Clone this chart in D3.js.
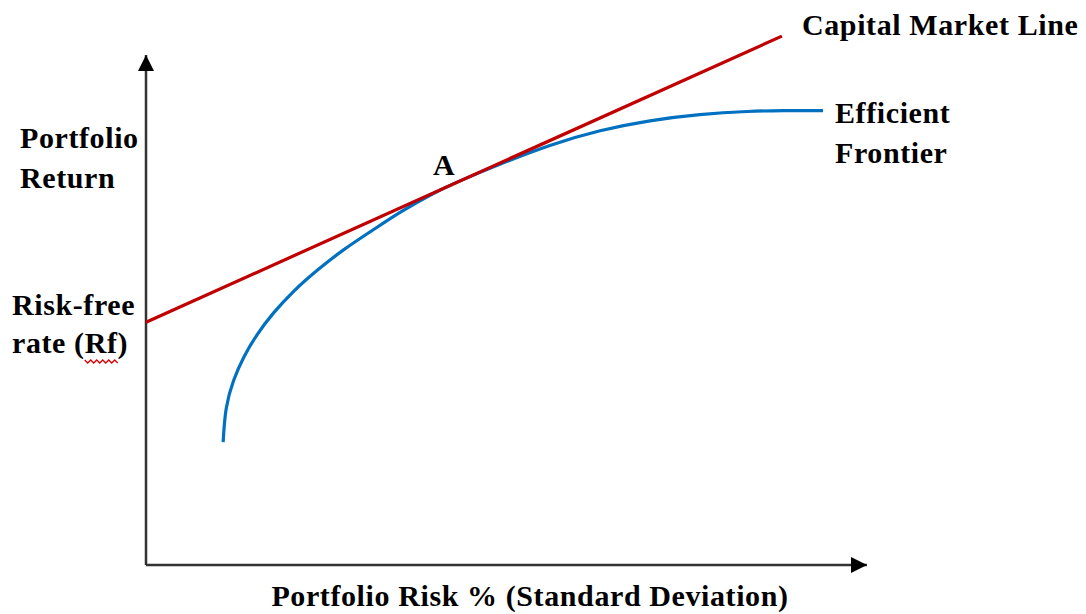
<!DOCTYPE html>
<html>
<head>
<meta charset="utf-8">
<script src="https://cdn.jsdelivr.net/npm/d3@7"></script>
<style>
  html, body { margin: 0; padding: 0; background: #fff; }
  svg text { font-family: 'Liberation Serif', 'Times New Roman', serif; font-weight: bold; fill: #000; letter-spacing: 0.6px; }
</style>
</head>
<body>
<svg id="chart" width="1086" height="614"></svg>
<script>
// risk (x) and return (y) on a 0-100 scale
const frontierRisk = [10.7, 11.0, 12.1, 13.5, 15.4, 17.6, 20.4, 23.7, 27.3, 31.5, 35.2, 39.8, 43.1, 49.1, 56.0, 63.0, 69.9, 76.8, 83.8, 88.3, 93.9];
const frontierReturn = [24.1, 31.0, 36.3, 40.8, 45.3, 49.4, 53.7, 57.8, 61.8, 65.7, 69.2, 72.9, 75.1, 78.6, 82.4, 85.3, 87.2, 88.4, 89.0, 89.1, 89.1];
const cmlRisk = [0, 88.2];
const cmlReturn = [47.6, 103.7];
const tangentPoint = { risk: 39.8, ret: 75.1, label: 'A' };

const svg = d3.select('#chart');
const x = d3.scaleLinear().domain([0, 100]).range([146, 867]);
const y = d3.scaleLinear().domain([0, 100]).range([565, 55]);

const defs = svg.append('defs');
defs.append('marker')
  .attr('id', 'arrow')
  .attr('viewBox', '0 0 10 10')
  .attr('refX', 10)
  .attr('refY', 5)
  .attr('markerWidth', 16)
  .attr('markerHeight', 16)
  .attr('markerUnits', 'userSpaceOnUse')
  .attr('orient', 'auto')
  .append('path')
  .attr('d', 'M0,0 L10,5 L0,10 Z')
  .attr('fill', '#000');

// axes (no ticks), with arrow heads
svg.append('line')
  .attr('x1', x(0)).attr('y1', y(0))
  .attr('x2', x(100)).attr('y2', y(0))
  .attr('stroke', '#333')
  .attr('stroke-width', 2.5)
  .attr('marker-end', 'url(#arrow)');
svg.append('line')
  .attr('x1', x(0)).attr('y1', y(0))
  .attr('x2', x(0)).attr('y2', y(100))
  .attr('stroke', '#333')
  .attr('stroke-width', 2.5)
  .attr('marker-end', 'url(#arrow)');

const frontier = frontierRisk.map((r, i) => [r, frontierReturn[i]]);
const cml = cmlRisk.map((r, i) => [r, cmlReturn[i]]);

const line = d3.line()
  .x(d => x(d[0]))
  .y(d => y(d[1]))
  .curve(d3.curveBasis);

svg.append('path')
  .datum(frontier)
  .attr('d', line)
  .attr('fill', 'none')
  .attr('stroke', '#0070c0')
  .attr('stroke-width', 3.2);

svg.append('path')
  .datum(cml)
  .attr('d', d3.line().x(d => x(d[0])).y(d => y(d[1])))
  .attr('fill', 'none')
  .attr('stroke', '#c00000')
  .attr('stroke-width', 3.2);

// labels
const fs = 30;
svg.append('text')
  .attr('x', x(tangentPoint.risk))
  .attr('y', y(tangentPoint.ret) - 7)
  .attr('font-size', fs)
  .text(tangentPoint.label);

const addLines = (lines, lx, ly, gap) => {
  const t = svg.append('text').attr('x', lx).attr('y', ly).attr('font-size', fs);
  lines.forEach((s, i) => t.append('tspan').attr('x', lx).attr('dy', i ? gap : 0).text(s));
  return t;
};

addLines(['Portfolio', 'Return'], 20, 148, 40);
addLines(['Capital Market Line'], 802, 35, 0);
addLines(['Efficient', 'Frontier'], 835, 123, 40);
addLines(['Risk-free'], 12, 315, 0);

const rateText = svg.append('text').attr('x', 12).attr('y', 353).attr('font-size', fs);
rateText.append('tspan').text('rate (');
rateText.append('tspan').text('Rf');
rateText.append('tspan').text(')');

// spell-check squiggle under "Rf"
const rfStart = 12 + rateText.node().getSubStringLength(0, 6);
const rfLen = rateText.node().getSubStringLength(6, 2);
const sq = d3.path();
sq.moveTo(rfStart, 360);
for (let px = rfStart, k = 0; px < rfStart + rfLen; px += 3, k++) {
  sq.lineTo(px + 3, k % 2 ? 360 : 363);
}
svg.append('path')
  .attr('d', sq.toString())
  .attr('fill', 'none')
  .attr('stroke', '#e00000')
  .attr('stroke-width', 1.3);

svg.append('text')
  .attr('x', 530)
  .attr('y', 606)
  .attr('text-anchor', 'middle')
  .attr('font-size', fs)
  .text('Portfolio Risk % (Standard Deviation)');
</script>
</body>
</html>
